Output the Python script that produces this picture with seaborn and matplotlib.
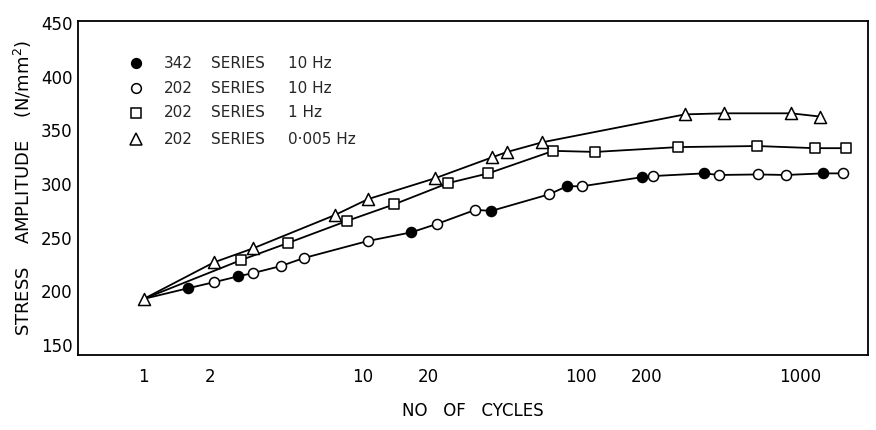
import numpy as np
import pandas as pd
import matplotlib
matplotlib.use("Agg")
import matplotlib.pyplot as plt
import seaborn as sns

# ---- data ----
start_cycles = [1.0]
start_stress = [193]

# 342 series 10 Hz (filled circles)
s342_10_x = [1.6, 2.7, 16.7, 38.8, 86, 190, 364, 1274]
s342_10_y = [203, 214, 255, 275, 298, 306.5, 310, 310]

# 202 series 10 Hz (open circles)
s202_10_x = [2.09, 3.15, 4.22, 5.38, 10.6, 22, 32.8, 71.4, 101, 213, 427, 643, 863, 1571]
s202_10_y = [208.5, 217, 223.5, 231, 247, 263, 276, 290.5, 298, 307.5, 308.5, 309, 308.5, 310]

# 202 series 1 Hz (open squares)
s202_1_x = [2.77, 4.55, 8.45, 13.9, 24.7, 37.6, 74.5, 116, 277, 637, 1170, 1623]
s202_1_y = [229, 245, 265.5, 281, 301, 310, 331, 330, 334.5, 335.5, 333.5, 333.5]

# 202 series 0.005 Hz (open triangles)
s202_005_x = [2.09, 3.15, 7.45, 10.6, 21.5, 39.2, 45.9, 66.4, 298, 450, 910, 1234]
s202_005_y = [227, 240, 271, 286, 305.5, 325, 330, 339, 365, 366, 366, 363]

legend_rows = [("342", "SERIES", "10 Hz"),
               ("202", "SERIES", "10 Hz"),
               ("202", "SERIES", "1 Hz"),
               ("202", "SERIES", "0\u00b7005 Hz")]

x_ticks = [1, 2, 10, 20, 100, 200, 1000]
y_ticks = [150, 200, 250, 300, 350, 400, 450]

# ---- build tables ----
df_f = pd.DataFrame({"x": s342_10_x, "y": s342_10_y})
df_o = pd.DataFrame({"x": s202_10_x, "y": s202_10_y})
df_s = pd.DataFrame({"x": s202_1_x, "y": s202_1_y})
df_t = pd.DataFrame({"x": s202_005_x, "y": s202_005_y})
df_start = pd.DataFrame({"x": start_cycles, "y": start_stress})

circ_line = pd.concat([df_start, df_f, df_o]).sort_values("x")
sq_line = pd.concat([df_start, df_s]).sort_values("x")
tri_line = pd.concat([df_start, df_t]).sort_values("x")

sns.set_theme(style="white")
plt.rcParams["font.family"] = ["DejaVu Sans"]

fig = plt.figure(figsize=(8.76, 4.30), dpi=100)
ax = fig.add_axes([0.089, 0.174, 0.902, 0.777])

lw = 1.3
for d in (circ_line, sq_line, tri_line):
    sns.lineplot(data=d, x="x", y="y", ax=ax, color="black", lw=lw,
                 sort=False, estimator=None)

mk = dict(edgecolor="black", linewidth=1.1, zorder=3)
sns.scatterplot(data=df_o, x="x", y="y", ax=ax, marker="o", s=52,
                facecolor="white", **mk)
sns.scatterplot(data=df_f, x="x", y="y", ax=ax, marker="o", s=52,
                facecolor="black", **mk)
sns.scatterplot(data=df_s, x="x", y="y", ax=ax, marker="s", s=46,
                facecolor="white", **mk)
sns.scatterplot(data=pd.concat([df_start, df_t]), x="x", y="y", ax=ax,
                marker="^", s=75, facecolor="white", **mk)

ax.set_xscale("log")
ax.set_xlim(0.5, 2050)
ax.set_ylim(140.5, 452)
ax.set_xticks(x_ticks)
ax.set_xticklabels([str(t) for t in x_ticks])
ax.xaxis.set_minor_locator(matplotlib.ticker.NullLocator())
ax.set_yticks(y_ticks)
ax.set_yticklabels([str(t) for t in y_ticks])

ax.tick_params(axis="both", direction="in", color="black", width=1.0,
               labelsize=12, labelcolor="black")
ax.tick_params(axis="y", length=12, pad=4)
ax.tick_params(axis="x", length=8, pad=9)
for sp in ax.spines.values():
    sp.set_color("black")
    sp.set_linewidth(1.3)

ax.set_xlabel("NO   OF   CYCLES", fontsize=12, labelpad=12, color="black")
ax.set_ylabel("STRESS    AMPLITUDE    (N/mm$^2$)", fontsize=13,
              labelpad=5, color="black")

# ---- legend ----
leg_markers = [("o", "black", 7), ("o", "white", 7), ("s", "white", 6.5),
               ("^", "white", 8)]
leg_y = [0.874, 0.799, 0.725, 0.647]
for (m, fc, ms), yy, (a, b, c) in zip(leg_markers, leg_y, legend_rows):
    ax.plot([0.073], [yy], marker=m, ms=ms, mfc=fc, mec="black", mew=1.1,
            transform=ax.transAxes, linestyle="none")
    ax.text(0.109, yy, a, transform=ax.transAxes, va="center", fontsize=11)
    ax.text(0.168, yy, b, transform=ax.transAxes, va="center", fontsize=11)
    ax.text(0.266, yy, c, transform=ax.transAxes, va="center", fontsize=11)

fig.savefig("out.png", dpi=100)
